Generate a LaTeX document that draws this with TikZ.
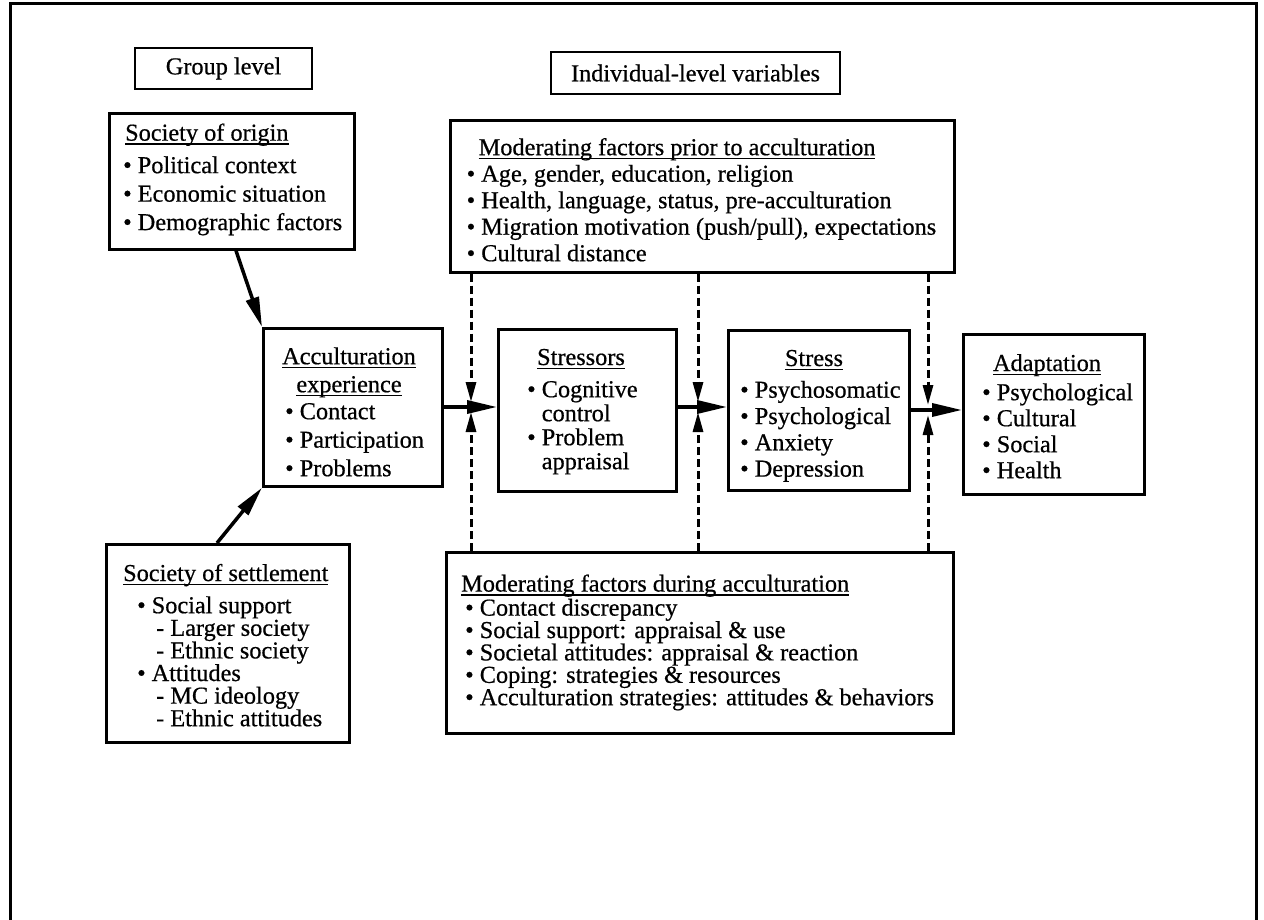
\documentclass[tikz,border=0pt]{standalone}
\usepackage{fontspec}
\setmainfont{Liberation Serif}[FakeBold=0.6]
\usetikzlibrary{arrows.meta}
\newsavebox\ttlbox
\newcommand\ttl[1]{\sbox\ttlbox{#1}\rlap{\rule[-4pt]{\wd\ttlbox}{1.5pt}}\usebox\ttlbox}
\newcommand\fsz[1]{\fontsize{24.3}{#1}\selectfont\lineskiplimit=-100pt\lineskip=0pt\relax}
\newcommand\bul{\textbullet\ }
\newcommand\bulsp{\phantom{\textbullet\ }}
\tikzset{
  box/.style={draw, line width=2.7pt, anchor=north west, inner sep=0pt},
  lbox/.style={draw, line width=2.7pt, anchor=center, inner sep=0pt, font=\fsz{28}},
  body/.style={anchor=north west, inner sep=0pt, align=left},
  head/.style={anchor=base, inner sep=0pt, font=\fsz{26}},
  arr/.style={line width=3.5pt, -{Triangle[length=30pt,width=13pt]}},
  modarr/.style={line width=3pt, dash pattern=on 8pt off 4pt, -{Triangle[length=20pt,width=10pt]}},
  frame/.style={line width=3pt},
}
\begin{document}
\begin{tikzpicture}[x=1pt,y=-1pt]
\useasboundingbox (0,0) rectangle (1264,920);
\draw[frame] (10,925) -- (10,3.5) -- (1256.5,3.5) -- (1256.5,925);

% level labels
\node[lbox, minimum width=177pt, minimum height=41pt] (group) at (223.5,68.5) {Group level};
\node[lbox, minimum width=289pt, minimum height=42pt] (indiv) at (695.5,73) {Individual-level variables};

% boxes
\node[box, minimum width=504pt, minimum height=152pt] (prior) at (449,119) {};
\node[box, minimum width=245pt, minimum height=136pt] (origin) at (108,112) {};
\node[box, minimum width=179pt, minimum height=158pt] (acc) at (262,327) {};
\node[box, minimum width=178pt, minimum height=162pt] (stressors) at (497,328) {};
\node[box, minimum width=181pt, minimum height=160pt] (stress) at (727,329) {};
\node[box, minimum width=181pt, minimum height=160pt] (adapt) at (962,333) {};
\node[box, minimum width=243pt, minimum height=198pt] (settle) at (105,543) {};
\node[box, minimum width=507pt, minimum height=181pt] (during) at (445,551) {};

% texts
\node[body, font=\fsz{28.5}] (origin-t) at (123,120.5)
  {\strut\hspace*{2pt}\ttl{Society of origin}\\[4pt]
   \bul Political context\\
   \bul Economic situation\\
   \bul Demographic factors};

\node[body, font=\fsz{26.5}] (prior-t) at (466.5,136.45)
  {\strut\hspace*{12pt}\ttl{Moderating factors prior to acculturation}\\
   \bul Age, gender, education, religion\\
   \bul Health, language, status, pre-acculturation\\
   \bul Migration motivation (push/pull), expectations\\
   \bul Cultural distance};

\node[anchor=north, inner sep=0pt, align=center, font=\fsz{28}] (acc-h) at (349,344.4)
  {\strut\ttl{Acculturation}\\ \ttl{experience}};
\node[body, font=\fsz{28.5}] (acc-t) at (285,399.05)
  {\strut\bul Contact\\
   \bul Participation\\
   \bul Problems};

\node[head] (stressors-h) at (581,365) {\ttl{Stressors}};
\node[body, font=\fsz{24}] (stressors-t) at (527,380.2)
  {\strut\bul Cognitive\\
   \bulsp control\\
   \bul Problem\\
   \bulsp appraisal};

\node[head] (stress-h) at (814,366) {\ttl{Stress}};
\node[body, font=\fsz{26.3}] (stress-t) at (740,379.1)
  {\strut\bul Psychosomatic\\
   \bul Psychological\\
   \bul Anxiety\\
   \bul Depression};

\node[head] (adapt-h) at (1047,371) {\ttl{Adaptation}};
\node[body, font=\fsz{26}] (adapt-t) at (982,381.8)
  {\strut\bul Psychological\\
   \bul Cultural\\
   \bul Social\\
   \bul Health};

\node[body, font=\fsz{22.6}] (settle-t) at (123,563.7)
  {\strut\ttl{Society of settlement}\\[9.6pt]
   \hspace*{14pt}\bul Social support\\
   \hspace*{33pt}- Larger society\\
   \hspace*{33pt}- Ethnic society\\
   \hspace*{14pt}\bul Attitudes\\
   \hspace*{33pt}- MC ideology\\
   \hspace*{33pt}- Ethnic attitudes};

\node[body, font=\fsz{22.4}] (during-t) at (461,574.3)
  {\strut\ttl{Moderating factors during acculturation}\\[1.6pt]
   \hspace*{4pt}\bul Contact discrepancy\\
   \hspace*{4pt}\bul Social support: appraisal \& use\\
   \hspace*{4pt}\bul Societal attitudes: appraisal \& reaction\\
   \hspace*{4pt}\bul Coping: strategies \& resources\\
   \hspace*{4pt}\bul Acculturation strategies: attitudes \& behaviors};

% junction coordinates
\coordinate (h1) at (471,407);
\coordinate (h2) at (698,407);
\coordinate (h3) at (928,410);
\coordinate (h1u) at (471,402);
\coordinate (h1d) at (471,412);
\coordinate (h2u) at (698,402);
\coordinate (h2d) at (698,412);
\coordinate (h3u) at (928,405);
\coordinate (h3d) at (928,415);

% solid arrows
\draw[arr] ([xshift=128pt]origin.south west) -- (acc.north west);
\draw[arr] ([xshift=112pt]settle.north west) -- (acc.south west);
\draw[arr] (acc.east |- h1) -- (stressors.west |- h1);
\draw[arr] (stressors.east |- h2) -- (stress.west |- h2);
\draw[arr] (stress.east |- h3) -- (adapt.west |- h3);

% dashed moderating arrows
\draw[modarr] (prior.south -| h1) -- (h1u);
\draw[modarr] (prior.south -| h2) -- (h2u);
\draw[modarr] (prior.south -| h3) -- (h3u);
\draw[modarr] (during.north -| h1) -- (h1d);
\draw[modarr] (during.north -| h2) -- (h2d);
\draw[modarr] (during.north -| h3) -- (h3d);
\end{tikzpicture}
\end{document}
